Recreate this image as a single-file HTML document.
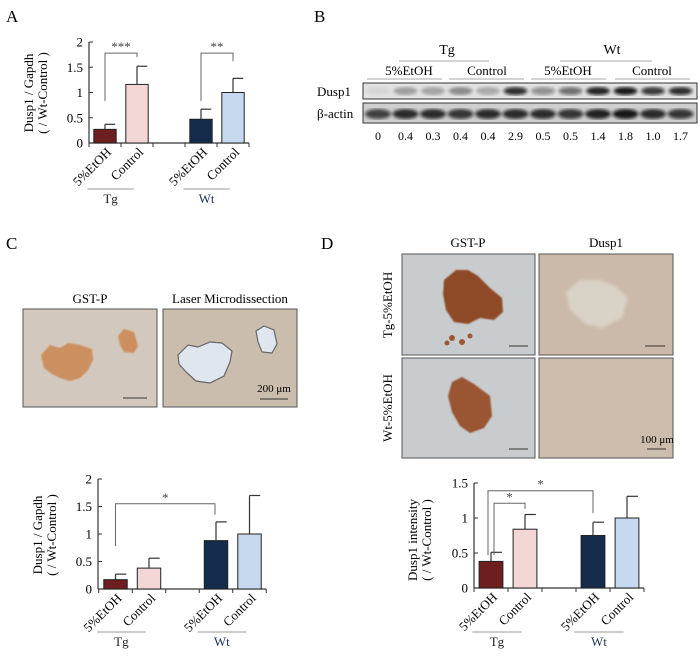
<!DOCTYPE html>
<html><head><meta charset="utf-8">
<style>
html,body{margin:0;padding:0;background:#fff;}
svg{display:block;font-family:"Liberation Serif",serif;}
</style></head>
<body>
<svg id="fig" width="700" height="656" viewBox="0 0 700 656" xmlns="http://www.w3.org/2000/svg">
<defs>
<filter id="blur1"><feGaussianBlur stdDeviation="1.6"/></filter>
<filter id="blur2"><feGaussianBlur stdDeviation="0.8"/></filter>
</defs>
<text x="6" y="22" font-size="17">A</text>
<text x="314" y="22" font-size="17">B</text>
<text x="6" y="249" font-size="17">C</text>
<text x="321" y="249" font-size="17">D</text>

<g>
  <text x="447" y="54" font-size="14" text-anchor="middle">Tg</text>
  <line x1="399" y1="61" x2="489" y2="61" stroke="#aaa" stroke-width="1"/>
  <text x="612" y="54" font-size="14" text-anchor="middle">Wt</text>
  <line x1="560" y1="61" x2="652" y2="61" stroke="#aaa" stroke-width="1"/>
  <text x="409" y="75" font-size="13" text-anchor="middle">5%EtOH</text>
  <line x1="367" y1="79" x2="442" y2="79" stroke="#aaa"/>
  <text x="487" y="75" font-size="13" text-anchor="middle">Control</text>
  <line x1="449" y1="79" x2="524" y2="79" stroke="#aaa"/>
  <text x="568" y="75" font-size="13" text-anchor="middle">5%EtOH</text>
  <line x1="531" y1="79" x2="606" y2="79" stroke="#aaa"/>
  <text x="652" y="75" font-size="13" text-anchor="middle">Control</text>
  <line x1="615" y1="79" x2="690" y2="79" stroke="#aaa"/>
  <text x="317" y="96" font-size="13">Dusp1</text>
  <text x="317" y="118" font-size="13">β-actin</text>
  <rect x="363" y="83" width="334" height="16" fill="#e2e2e2" stroke="#333" stroke-width="1"/>
  <rect x="363" y="103" width="334" height="20" fill="#cfcfcf" stroke="#333" stroke-width="1"/>
  <g id="bands"></g>
  <g id="bandVals"></g>
</g>

<g>
  <text x="90" y="303" font-size="13" text-anchor="middle">GST-P</text>
  <text x="230" y="303" font-size="13" text-anchor="middle">Laser Microdissection</text>
  <rect x="23" y="309" width="134" height="98" fill="#d3c8bd" stroke="#555"/>
  <path d="M41,355 L50,345 L60,348 L68,343 L80,345 L92,349 L93,360 L88,370 L80,378 L70,381 L60,378 L52,374 L44,368 Z" fill="#cc8f5e" filter="url(#blur2)"/>
  <path d="M118,336 L124,329 L134,332 L138,346 L134,353 L124,352 L120,345 Z" fill="#cc8f5e" filter="url(#blur2)"/>
  <line x1="123" y1="398" x2="147" y2="398" stroke="#333"/>
  <rect x="163" y="309" width="134" height="98" fill="#cbbdae" stroke="#555"/>
  <path d="M178,355 L188,345 L198,347 L210,342 L222,343 L232,351 L230,362 L224,376 L210,383 L196,381 L186,372 L179,364 Z" fill="#dfe6ee" stroke="#666" stroke-width="1.2"/>
  <path d="M256,331 L264,326 L274,330 L277,344 L272,353 L262,352 L258,342 Z" fill="#dfe6ee" stroke="#666" stroke-width="1.2"/>
  <text x="274" y="392" font-size="11" text-anchor="middle">200 μm</text>
  <line x1="260" y1="399" x2="288" y2="399" stroke="#333"/>
</g>

<g>
  <text x="468" y="247" font-size="13" text-anchor="middle">GST-P</text>
  <text x="606" y="247" font-size="13" text-anchor="middle">Dusp1</text>
  <text transform="translate(392,305) rotate(-90)" font-size="13" text-anchor="middle">Tg-5%EtOH</text>
  <text transform="translate(392,408) rotate(-90)" font-size="13" text-anchor="middle">Wt-5%EtOH</text>
  <rect x="402" y="254" width="133" height="101" fill="#c8ccce" stroke="#555"/>
  <path d="M444,280 L456,270 L468,270 L478,276 L490,288 L502,298 L503,312 L494,320 L480,318 L468,324 L454,322 L446,310 L443,294 Z" fill="#8e4a26" filter="url(#blur2)"/>
  <circle cx="452" cy="338" r="3" fill="#9a5a35"/><circle cx="462" cy="342" r="3" fill="#9a5a35"/><circle cx="470" cy="336" r="2.5" fill="#9a5a35"/><circle cx="447" cy="343" r="2.5" fill="#9a5a35"/>
  <line x1="509" y1="346" x2="528" y2="346" stroke="#333"/>
  <rect x="539" y="254" width="134" height="101" fill="#cbbaa9" stroke="#555"/>
  <path d="M566,292 L580,280 L600,280 L615,286 L628,298 L622,318 L602,328 L586,324 L570,310 Z" fill="#d9d2c6" filter="url(#blur1)"/>
  <line x1="645" y1="346" x2="665" y2="346" stroke="#333"/>
  <rect x="402" y="358" width="133" height="100" fill="#c8ccce" stroke="#555"/>
  <path d="M452,382 L462,377 L474,384 L490,396 L492,416 L484,428 L470,433 L460,426 L452,412 L448,396 Z" fill="#9a5430" filter="url(#blur2)"/>
  <line x1="509" y1="449" x2="528" y2="449" stroke="#333"/>
  <rect x="539" y="358" width="134" height="100" fill="#cdbdac" stroke="#555"/>
  <text x="657" y="443" font-size="11" text-anchor="middle">100 μm</text>
  <line x1="647" y1="449" x2="666" y2="449" stroke="#333"/>
</g>

<g id="chartA"></g>
<g id="chartC"></g>
<g id="chartD"></g>
</svg>
<script>
const barLabels = ["5%EtOH","Control","5%EtOH","Control"];
const barColors = ["#6d1f1f","#f3d6d6","#152b4c","#c6d9ee"];
const valuesA = [0.27, 1.16, 0.47, 1.0];
const errorsA = [0.10, 0.36, 0.20, 0.28];
const ticksA = [0, 0.5, 1, 1.5, 2];
const tickLabelsA = ["0","0.5","1","1.5","2"];
const valuesC = [0.17, 0.38, 0.88, 1.0];
const errorsC = [0.10, 0.18, 0.34, 0.70];
const ticksC = [0, 0.5, 1, 1.5, 2];
const tickLabelsC = ["0","0.5","1","1.5","2"];
const valuesD = [0.38, 0.84, 0.75, 1.0];
const errorsD = [0.13, 0.21, 0.19, 0.31];
const ticksD = [0, 0.5, 1, 1.5];
const tickLabelsD = ["0","0.5","1","1.5"];
const blotRatios = ["0","0.4","0.3","0.4","0.4","2.9","0.5","0.5","1.4","1.8","1.0","1.7"];
const dusp1Intensity = [0.05,0.3,0.28,0.38,0.25,0.85,0.4,0.55,0.9,0.95,0.8,0.85];
const actinIntensity = [0.75,0.85,0.85,0.8,0.85,0.85,0.85,0.8,0.9,0.95,0.85,0.8];

const NS = "http://www.w3.org/2000/svg";
function mk(tag, attrs, parent){const e=document.createElementNS(NS,tag);for(const k in attrs)e.setAttribute(k,attrs[k]);parent.appendChild(e);return e;}

const bands=document.getElementById('bands'), bv=document.getElementById('bandVals');
blotRatios.forEach((r,i)=>{
  const cx=378+i*27.5;
  const g1=mk('ellipse',{cx:cx,cy:91,rx:12,ry:4,fill:'#111','fill-opacity':dusp1Intensity[i],filter:'url(#blur1)'},bands);
  
  
  const g2=mk('ellipse',{cx:cx,cy:114,rx:13,ry:5,fill:'#111','fill-opacity':actinIntensity[i],filter:'url(#blur1)'},bands);
  
  
  const t=mk('text',{x:cx,y:140,'font-size':12,'text-anchor':'middle'},bv);t.textContent=r;
  
  
});

function drawChart(g, cfg, values, errors, ticks, tickLabels, brackets){
  const y=v=>cfg.y0-v*cfg.unit;
  const slots=[0,1,3,4];
  const cx=i=>cfg.c0+slots[i]*cfg.step;
  const xEnd=cfg.c0+4.5*cfg.step;
  mk('line',{x1:cfg.x0,y1:cfg.y0,x2:xEnd,y2:cfg.y0,stroke:'#333','stroke-width':1.2},g);
  mk('line',{x1:cfg.x0,y1:cfg.y0,x2:cfg.x0,y2:y(ticks[ticks.length-1]),stroke:'#333','stroke-width':1.2},g);
  ticks.forEach((t,i)=>{
    mk('line',{x1:cfg.x0,y1:y(t),x2:cfg.x0+4,y2:y(t),stroke:'#333'},g);
    const tx=mk('text',{x:cfg.x0-6,y:y(t)+4.5,'font-size':13,'text-anchor':'end'},g);tx.textContent=tickLabels[i];
    
    
  });
  for(let k=0;k<=5;k++){const xx=cfg.c0+(k-0.5)*cfg.step;mk('line',{x1:xx,y1:cfg.y0,x2:xx,y2:cfg.y0+4,stroke:'#333'},g);}
  values.forEach((v,i)=>{
    const w=cfg.step*0.7;
    mk('line',{x1:cx(i),y1:y(v),x2:cx(i),y2:y(v+errors[i]),stroke:'#333','stroke-width':1.2},g);
    mk('line',{x1:cx(i),y1:y(v+errors[i]),x2:cx(i)+w/2-1,y2:y(v+errors[i]),stroke:'#333','stroke-width':1.2},g);
    const b=mk('rect',{x:cx(i)-w/2,y:y(v),width:w,height:v*cfg.unit,fill:barColors[i],stroke:'#222','stroke-width':1},g);
    
    
    const lt=mk('text',{transform:`translate(${cx(i)+7},${cfg.y0+10}) rotate(-45)`,'font-size':13,'text-anchor':'end'},g);
    lt.textContent=barLabels[i];
    
    
  });
  [[0,1,'Tg','#222'],[2,3,'Wt','#1d2e55']].forEach(([a,b,lab,col])=>{
    const l=cx(a)-cfg.step*0.55, r=cx(a)+cfg.step*0.9;
    mk('line',{x1:l,y1:cfg.gy,x2:r,y2:cfg.gy,stroke:'#999'},g);
    const t=mk('text',{x:(l+r)/2,y:cfg.gy+14,'font-size':13,'text-anchor':'middle',fill:col},g);t.textContent=lab;
    
    
  });
  const yl=mk('text',{transform:`translate(${cfg.lx},${cfg.ly}) rotate(-90)`,'font-size':13,'text-anchor':'middle'},g);yl.textContent=cfg.l1;
  
  
  const yl2=mk('text',{transform:`translate(${cfg.lx+14},${cfg.ly}) rotate(-90)`,'font-size':13,'text-anchor':'middle'},g);yl2.textContent='( / Wt-Control )';
  
  
  brackets.forEach(br=>{
    const xa=cx(br.a)+br.dxa, xb=cx(br.b)+br.dxb;
    mk('polyline',{points:`${xa},${y(br.ya)} ${xa},${y(br.top)} ${xb},${y(br.top)} ${xb},${y(br.yb)}`,fill:'none',stroke:'#666','stroke-width':1},g);
    const s=mk('text',{x:(xa+xb)/2,y:y(br.top)-2,'font-size':13,'text-anchor':'middle',fill:'#444'},g);s.textContent=br.s;
    
    
  });
}
drawChart(document.getElementById('chartA'),{x0:89,y0:143,unit:50.5,c0:105,step:32,gy:189,lx:33,ly:93,l1:'Dusp1 / Gapdh'},
  valuesA,errorsA,ticksA,tickLabelsA,
  [{a:0,b:1,dxa:0,dxb:0,ya:0.83,top:1.78,yb:1.70,s:'***'},{a:2,b:3,dxa:0,dxb:0,ya:0.83,top:1.78,yb:1.62,s:'**'}]);
drawChart(document.getElementById('chartC'),{x0:98,y0:589,unit:55,c0:115.5,step:33.5,gy:632,lx:42,ly:535,l1:'Dusp1 / Gapdh'},
  valuesC,errorsC,ticksC,tickLabelsC,
  [{a:0,b:2,dxa:0,dxb:-1,ya:0.78,top:1.55,yb:1.35,s:'*'}]);
drawChart(document.getElementById('chartD'),{x0:474,y0:588,unit:70,c0:491,step:34,gy:632,lx:417,ly:540,l1:'Dusp1 intensity'},
  valuesD,errorsD,ticksD,tickLabelsD,
  [{a:0,b:1,dxa:3,dxb:0,ya:0.47,top:1.21,yb:1.13,s:'*'},{a:0,b:2,dxa:-3,dxb:0,ya:0.47,top:1.39,yb:1.07,s:'*'}]);
</script>
</body></html>
